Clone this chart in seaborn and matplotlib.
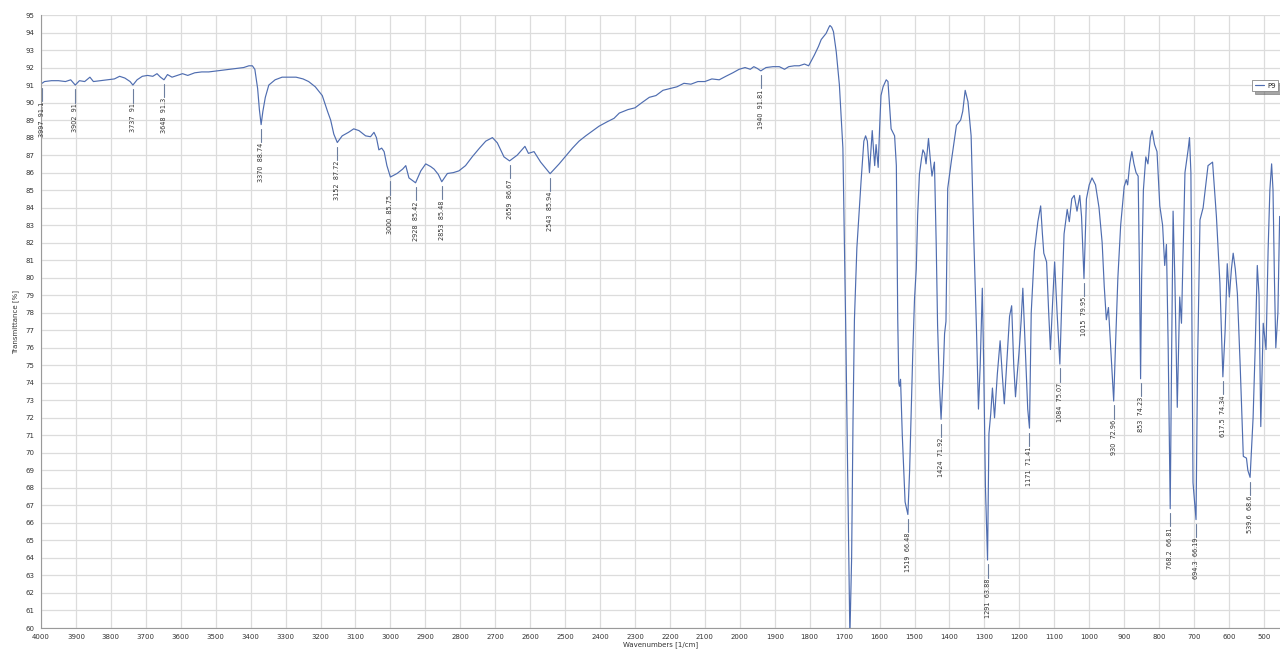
import numpy as np
import pandas as pd
import matplotlib
matplotlib.use("Agg")
import matplotlib.pyplot as plt
import seaborn as sns
from matplotlib.ticker import MultipleLocator

# Espectro IR de la muestra P9
wavenumber = [
    4000, 3997, 3990, 3970, 3950, 3930, 3915, 3902, 3890, 3875, 3860, 3850, 3830,
    3810, 3790, 3775, 3760, 3745, 3737, 3725, 3710, 3695, 3680, 3668, 3658, 3648,
    3638, 3625, 3610, 3595, 3580, 3560, 3540, 3520, 3500, 3480, 3460, 3440, 3420,
    3405, 3395, 3388, 3380, 3375, 3370, 3365, 3358, 3348, 3330, 3310, 3290, 3270,
    3250, 3234, 3215, 3195, 3180, 3171, 3162, 3152, 3138, 3120, 3105, 3090, 3071,
    3057, 3047, 3040, 3033, 3025, 3018, 3010, 3000, 2981, 2965, 2956, 2947, 2928,
    2913, 2899, 2885, 2875, 2863, 2853, 2837, 2820, 2804, 2785, 2766, 2745, 2727,
    2708, 2694, 2675, 2659, 2637, 2615, 2605, 2589, 2570, 2543, 2517, 2500, 2479,
    2460, 2441, 2420, 2403, 2380, 2360, 2345, 2320, 2300, 2280, 2259, 2240, 2220,
    2200, 2180, 2160, 2140, 2120, 2100, 2080, 2059, 2040, 2020, 2002, 1985, 1970,
    1960, 1950, 1940, 1925, 1905, 1887, 1872, 1860, 1844, 1830, 1815, 1803, 1795,
    1787, 1775, 1767, 1753, 1745, 1742, 1737, 1732, 1724, 1715, 1705, 1697, 1690,
    1685, 1680, 1676, 1672, 1665, 1653, 1645, 1640, 1635, 1629, 1624, 1621, 1617,
    1614, 1610, 1604, 1600, 1596, 1590, 1581, 1576, 1572, 1567, 1557, 1552, 1548,
    1545, 1543, 1540, 1535, 1527, 1519, 1514, 1505, 1500, 1495, 1491, 1486, 1480,
    1476, 1471, 1467, 1460, 1455, 1450, 1443, 1438, 1434, 1429, 1424, 1418, 1414,
    1410, 1405, 1395, 1380, 1368, 1362, 1355, 1347, 1338, 1330, 1323, 1317, 1312,
    1306, 1302, 1297, 1291, 1287, 1282, 1277, 1271, 1263, 1255, 1249, 1243, 1235,
    1228, 1222, 1216, 1211, 1206, 1201, 1195, 1190, 1183, 1176, 1171, 1166, 1157,
    1147, 1139, 1134, 1130, 1122, 1116, 1111, 1105, 1099, 1092, 1084, 1078, 1072,
    1063, 1057, 1050, 1043, 1035, 1027, 1022, 1015, 1008, 1000, 992, 982, 972,
    963, 957, 951, 945, 940, 930, 925, 918, 910, 900, 894, 890, 884, 878, 872,
    866, 860, 856, 853, 850, 845, 838, 832, 825, 820, 813, 806, 798, 790, 784,
    779, 774, 768.2, 764, 760, 755, 748, 741, 736, 726, 717, 713, 709, 703, 694.3,
    690, 683, 674, 660, 647, 636, 626, 617.5, 611, 605, 599, 593, 588, 582, 576,
    568, 559, 550, 546, 539.6, 531, 525, 519, 514, 509, 505, 502, 494, 488, 483,
    478, 474, 470, 466, 460, 455,
]
transmittance = [
    91.15, 91.10, 91.20, 91.25, 91.25, 91.20, 91.30, 91.00, 91.25, 91.20, 91.45, 91.20, 91.25,
    91.30, 91.35, 91.50, 91.40, 91.20, 91.00, 91.30, 91.50, 91.55, 91.50, 91.65, 91.45, 91.30,
    91.60, 91.45, 91.55, 91.65, 91.55, 91.70, 91.75, 91.75, 91.80, 91.85, 91.90, 91.95, 92.00,
    92.10, 92.10, 91.90, 90.80, 89.60, 88.74, 89.50, 90.30, 91.00, 91.30, 91.45, 91.45, 91.45,
    91.35, 91.20, 90.90, 90.40, 89.50, 89.00, 88.20, 87.72, 88.10, 88.30, 88.50, 88.40, 88.10,
    88.05, 88.30, 88.00, 87.30, 87.40, 87.20, 86.40, 85.75, 85.95, 86.20, 86.40, 85.70, 85.42,
    86.10, 86.50, 86.35, 86.20, 85.90, 85.48, 85.95, 86.00, 86.10, 86.40, 86.90, 87.40, 87.80,
    88.00, 87.70, 86.90, 86.67, 87.00, 87.50, 87.10, 87.20, 86.60, 85.94, 86.50, 86.90, 87.40,
    87.80, 88.10, 88.40, 88.65, 88.90, 89.10, 89.40, 89.60, 89.70, 90.00, 90.30, 90.40, 90.70,
    90.80, 90.90, 91.10, 91.05, 91.20, 91.20, 91.35, 91.30, 91.50, 91.70, 91.90, 92.00, 91.90,
    92.05, 91.95, 91.81, 92.00, 92.05, 92.05, 91.90, 92.05, 92.10, 92.10, 92.20, 92.10, 92.40,
    92.70, 93.20, 93.60, 93.95, 94.30, 94.40, 94.30, 94.05, 92.90, 91.00, 87.40, 77.30, 67.00,
    59.50, 64.00, 71.90, 77.60, 81.70, 85.50, 87.80, 88.10, 87.80, 86.00, 87.50, 88.40, 87.20,
    86.40, 87.60, 86.30, 88.50, 90.40, 90.90, 91.30, 91.20, 90.00, 88.50, 88.10, 86.40, 77.60,
    74.00, 73.80, 74.20, 71.00, 67.20, 66.48, 69.00, 75.70, 78.80, 80.50, 83.60, 85.90, 86.80,
    87.30, 87.10, 86.50, 87.95, 86.80, 85.80, 86.60, 82.00, 77.30, 74.00, 71.92, 74.50, 76.80,
    77.50, 85.10, 86.60, 88.70, 89.00, 89.50, 90.70, 90.05, 88.10, 82.00, 77.30, 72.50, 75.00,
    79.40, 75.00, 68.00, 63.88, 71.10, 72.20, 73.70, 72.00, 74.50, 76.40, 74.50, 72.80, 75.50,
    77.80, 78.40, 75.00, 73.20, 74.50, 75.70, 77.50, 79.40, 76.00, 72.50, 71.41, 78.00, 81.50,
    83.20, 84.10, 82.50, 81.40, 80.90, 78.00, 75.90, 78.50, 80.90, 78.00, 75.07, 79.00, 82.50,
    83.90, 83.20, 84.50, 84.70, 83.80, 84.70, 83.50, 79.95, 84.50, 85.30, 85.70, 85.30, 84.00,
    82.00, 79.50, 77.60, 78.30, 76.50, 72.96, 76.00, 80.00, 83.00, 85.20, 85.60, 85.30, 86.50, 87.20, 86.50,
    86.00, 85.80, 80.00, 74.23, 80.00, 85.00, 86.90, 86.50, 88.00, 88.40, 87.60, 87.20, 84.10, 83.00, 80.70,
    81.90, 76.00, 66.81, 76.00, 83.80, 80.00, 72.60, 78.90, 77.40, 86.00, 87.30, 88.00, 86.00, 68.30, 66.19,
    75.00, 83.30, 84.00, 86.40, 86.60, 83.50, 79.70, 74.34, 77.00, 80.80, 78.90, 80.50, 81.40, 80.50, 79.10,
    75.00, 69.80, 69.70, 69.00, 68.60, 72.00, 76.00, 80.70, 79.00, 71.50, 75.00, 77.40, 75.90, 81.60, 85.00,
    86.50, 85.00, 80.00, 76.00, 78.00, 83.50,
]

# Picos etiquetados
peak_wn = [3997, 3902, 3737, 3648, 3370, 3152, 3000, 2928, 2853, 2659, 2543, 1940,
           1519, 1424, 1291, 1171, 1084, 1015, 930, 853, 768.2, 694.3, 617.5, 539.6]
peak_t = [91.1, 91, 91, 91.3, 88.74, 87.72, 85.75, 85.42, 85.48, 86.67, 85.94, 91.81,
          66.48, 71.92, 63.88, 71.41, 75.07, 79.95, 72.96, 74.23, 66.81, 66.19, 74.34, 68.6]
peak_txt = ["3997  91.1", "3902  91", "3737  91", "3648  91.3", "3370  88.74", "3152  87.72",
            "3000  85.75", "2928  85.42", "2853  85.48", "2659  86.67", "2543  85.94",
            "1940  91.81", "1519  66.48", "1424  71.92", "1291  63.88", "1171  71.41",
            "1084  75.07", "1015  79.95", "930  72.96", "853  74.23", "768.2  66.81",
            "694.3  66.19", "617.5  74.34", "539.6  68.6"]

df = pd.DataFrame({"Wavenumber": wavenumber, "Transmittance": transmittance})

sns.set_style("white")
plt.rcParams["font.family"] = ["DejaVu Sans"]

fig = plt.figure(figsize=(12.8, 6.55), dpi=100)
ax = fig.add_axes([41 / 1280, 1 - 628 / 655, 1 - 41 / 1280, (628 - 15) / 655])

line_color = "#4f6db0"
sns.lineplot(data=df, x="Wavenumber", y="Transmittance", ax=ax, color=line_color,
             linewidth=0.85, sort=False, estimator=None, label="P9")

# ── Etiquetas de picos ─────────────────────────
for w, t, s in zip(peak_wn, peak_t, peak_txt):
    ax.plot([w, w], [t - 0.25, t - 1.0], color="#6d7f9f", linewidth=0.8)
    ax.text(w, t - 1.05, s, rotation=90, ha="center", va="top",
            fontsize=4.7, color="#333333")

ax.set_xlim(4000, 454)
ax.set_ylim(60, 95)
ax.xaxis.set_major_locator(MultipleLocator(100))
ax.xaxis.set_minor_locator(MultipleLocator(20))
ax.yaxis.set_major_locator(MultipleLocator(1))
ax.yaxis.set_minor_locator(MultipleLocator(0.2))
ax.grid(True, which="major", color="#dcdcdc", linewidth=0.9)
ax.set_axisbelow(True)

for side in ["top", "right"]:
    ax.spines[side].set_visible(False)
for side in ["left", "bottom"]:
    ax.spines[side].set_color("#9a9a9a")
    ax.spines[side].set_linewidth(0.8)

ax.tick_params(axis="both", which="major", direction="out", length=3, width=0.6,
               color="#9a9a9a", labelsize=5, labelcolor="#333333", pad=1.5)
ax.tick_params(axis="both", which="minor", direction="out", length=1.5, width=0.5,
               color="#9a9a9a")

ax.set_xlabel("Wavenumbers [1/cm]", fontsize=5, color="#333333", labelpad=0.5)
ax.set_ylabel("Transmittance [%]", fontsize=5, color="#333333", labelpad=5)

leg = ax.legend(loc="upper left", bbox_to_anchor=(0.975, 0.9), fontsize=5,
                frameon=True, shadow=True, fancybox=False, handlelength=1.2,
                borderpad=0.4, handletextpad=0.5)
leg.get_frame().set_edgecolor("#888888")
leg.get_frame().set_linewidth(0.6)

fig.savefig("out.png", dpi=100)
